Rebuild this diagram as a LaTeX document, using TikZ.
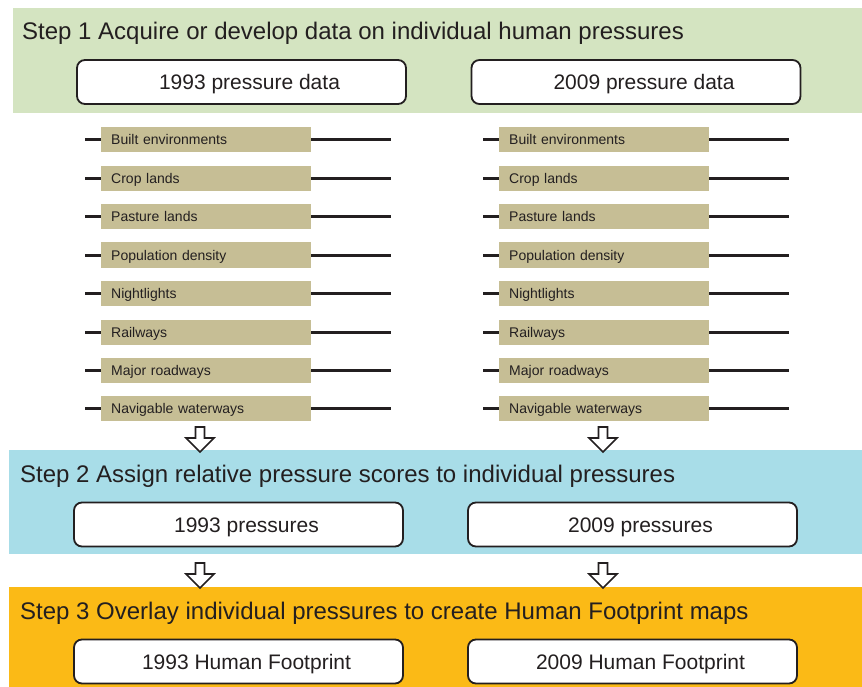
\documentclass[tikz,border=0pt]{standalone}
\usepackage{fontspec}
\setmainfont{Liberation Sans}
\usetikzlibrary{positioning,calc}
\definecolor{ink}{RGB}{35,31,32}
\definecolor{stepA}{RGB}{212,228,193}
\definecolor{stepB}{RGB}{168,221,232}
\definecolor{stepC}{RGB}{251,186,22}
\definecolor{layerfill}{RGB}{198,190,149}
\tikzset{
  steptitle/.style={anchor=base west,inner sep=0pt,text=ink,font=\fontsize{24}{28}\selectfont},
  yearbox/.style={draw=ink,line width=1.8pt,rounded corners=8pt,fill=white,minimum width=329pt,minimum height=44pt,inner sep=0pt},
  yeartext/.style={xshift=8pt,inner sep=0pt,text height=16pt,text depth=0pt,text=ink,font=\fontsize{21}{24}\selectfont},
  layer/.style={anchor=west,fill=layerfill,minimum width=210pt,minimum height=25pt,text width=190pt,text height=12pt,text depth=2pt,inner xsep=10pt,inner ysep=0pt,align=left,text=ink,font=\fontsize{14}{16}\selectfont},
  rule/.style={ink,line width=3pt},
  hollow/.pic={\draw[ink,line width=1.6pt,fill=white,line join=miter] (-4.5,0) -- (-4.5,11) -- (-14,11) -- (0,25) -- (14,11) -- (4.5,11) -- (4.5,0) -- cycle;}
}
\begin{document}
\begin{tikzpicture}[x=1pt,y=-1pt]
\useasboundingbox (0,0) rectangle (862,687);
% the three step bands
\fill[stepA] (13,8) rectangle (862,113);
\fill[stepB] (9,450) rectangle (862,554);
\fill[stepC] (9,587) rectangle (862,687);
\node[steptitle] (t1) at (22,40) {Step 1 Acquire or develop data on individual human pressures};
\node[steptitle] (t2) at (20,482) {Step 2 Assign relative pressure scores to individual pressures};
\node[steptitle] (t3) at (20,619) {Step 3 Overlay individual pressures to create Human Footprint maps};
% year boxes
\node[yearbox,label={[yeartext]center:1993 pressure data}] (p93) at (241.5,82) {};
\node[yearbox,label={[yeartext]center:2009 pressure data}] (p09) at (636,82) {};
\node[yearbox,label={[yeartext]center:1993 pressures}] (s93) at (238.5,524.5) {};
\node[yearbox,label={[yeartext]center:2009 pressures}] (s09) at (632.5,524.5) {};
\node[yearbox,label={[yeartext]center:1993 Human Footprint}] (f93) at (238.5,661.5) {};
\node[yearbox,label={[yeartext]center:2009 Human Footprint}] (f09) at (632.5,661.5) {};
% individual pressure layers
\foreach \name/\yy [count=\i from 0] in {Built environments/140,Crop lands/179,Pasture lands/217,Population density/255,Nightlights/293,Railways/332,Major roadways/370,Navigable waterways/408}{
  \node[layer] (la\i) at (101,\yy) {\name};
  \node[layer] (lb\i) at (499,\yy) {\name};
  \coordinate (la\i w) at (85,\yy);
  \coordinate (la\i e) at (391,\yy);
  \coordinate (lb\i w) at (483,\yy);
  \coordinate (lb\i e) at (789,\yy);
  \draw[rule] (la\i w) -- (la\i.west);
  \draw[rule] (la\i.east) -- (la\i e);
  \draw[rule] (lb\i w) -- (lb\i.west);
  \draw[rule] (lb\i.east) -- (lb\i e);
}
% block arrows between the steps
\pic at (200,427) {hollow};
\pic at (603,427) {hollow};
\pic at (200,563) {hollow};
\pic at (603,563) {hollow};
\end{tikzpicture}
\end{document}
